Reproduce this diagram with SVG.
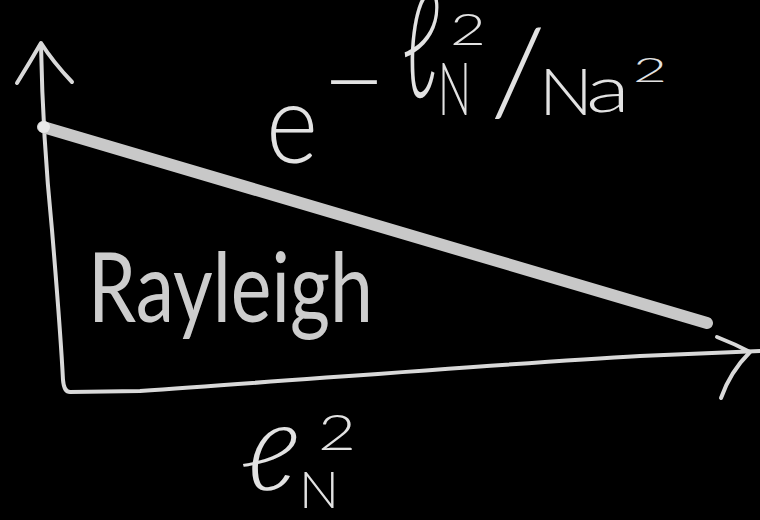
<svg xmlns="http://www.w3.org/2000/svg" width="760" height="520" viewBox="0 0 760 520">
<style>
.chalk{fill:none;stroke:#d9d9d9;stroke-width:4;stroke-linecap:round;stroke-linejoin:round}
.thick{fill:none;stroke:#c8c8c8;stroke-width:12;stroke-linecap:round}
.m{font-family:Lato,"DejaVu Sans",sans-serif;font-weight:300;fill:#e2e2e2}
.r{font-family:Lato,"DejaVu Sans",sans-serif;font-weight:400;fill:#cdcdcd}
</style>
<rect width="760" height="520" fill="#000"/>
<g id="connectors">
<path class="chalk" d="M41,45 C42,100 45,160 52,230 C57,290 61,340 63,380 Q64,392 70,392 L140,391 C300,380 500,364 640,356 L760,351"/>
<path class="chalk" d="M17,83 Q30,62 41,43 Q53,62 72,82"/>
<path class="chalk" d="M717,337 Q735,344 750,352 Q730,372 721,398"/>
</g>
<g id="curve">
<path class="thick" d="M43,127 L707,323"/>
<circle cx="44" cy="127" r="6" fill="#e8e8e8"/>
</g>
<g id="label-formula">
<text class="m" x="266" y="163" font-size="112" textLength="52" lengthAdjust="spacingAndGlyphs">e</text>
<text class="m" x="322" y="116" font-size="100" textLength="64" lengthAdjust="spacingAndGlyphs">−</text>
<text class="m" x="402" y="97" font-size="150" textLength="38" lengthAdjust="spacingAndGlyphs">ℓ</text>
<text class="m" x="450" y="45" font-size="44" textLength="36" lengthAdjust="spacingAndGlyphs">2</text>
<text class="m" x="438" y="115" font-size="72" textLength="33" lengthAdjust="spacingAndGlyphs">N</text>
<text class="m" x="490" y="114" font-size="118" textLength="56" lengthAdjust="spacingAndGlyphs">/</text>
<text class="m" x="539" y="115" font-size="66" textLength="54" lengthAdjust="spacingAndGlyphs">N</text>
<text class="m" x="586" y="112" font-size="66" textLength="44" lengthAdjust="spacingAndGlyphs">a</text>
<text class="m" x="633" y="82" font-size="34" textLength="34" lengthAdjust="spacingAndGlyphs">2</text>
</g>
<g id="label-rayleigh">
<text class="r" x="88" y="322" font-size="96" textLength="285" lengthAdjust="spacingAndGlyphs">Rayleigh</text>
</g>
<g id="label-xaxis">
<text class="m" x="240" y="490" font-size="88" font-style="italic" textLength="57" lengthAdjust="spacingAndGlyphs">ℓ</text>
<text class="m" x="318" y="450" font-size="50" textLength="38" lengthAdjust="spacingAndGlyphs">2</text>
<text class="m" x="299" y="508" font-size="52" textLength="40" lengthAdjust="spacingAndGlyphs">N</text>
</g>
</svg>
